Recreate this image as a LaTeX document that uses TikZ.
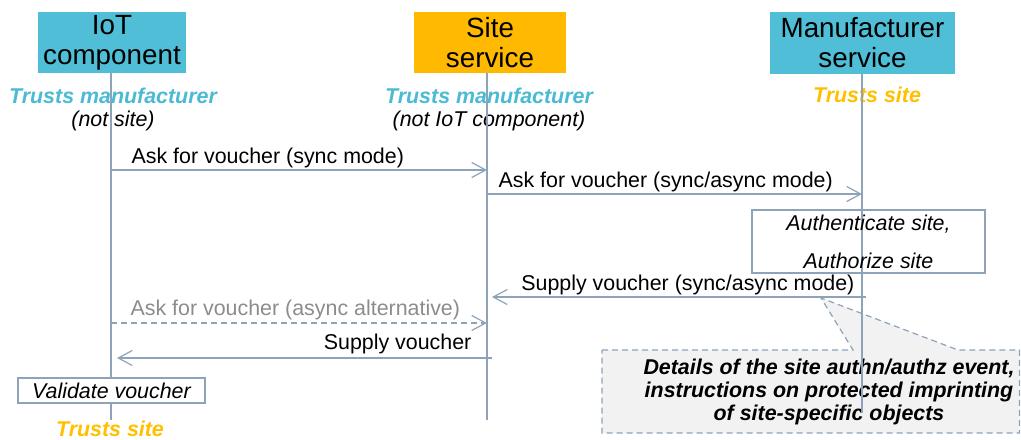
\documentclass[tikz,border=0pt]{standalone}
\usepackage{fontspec}
\setmainfont{Liberation Sans}
\usepackage{tikz}
\usetikzlibrary{arrows.meta, positioning, backgrounds}
\definecolor{actorCyan}{HTML}{4FBED6}
\definecolor{actorOrange}{HTML}{FFB900}
\definecolor{trustCyan}{HTML}{4BBAD3}
\definecolor{trustOrange}{HTML}{FFC000}
\definecolor{lineGrey}{HTML}{8EA3B7}
\definecolor{altGrey}{HTML}{8C8C8C}
\definecolor{noteFill}{HTML}{F2F2F2}
\tikzstyle{actor} = [rectangle, align=center, inner sep=0pt, font=\fontsize{13.9}{15}\selectfont]
\tikzstyle{lifeline} = [draw=lineGrey, line width=0.6pt]
\tikzstyle{msg} = [draw=lineGrey, line width=0.6pt, -{Straight Barb[length=7pt,width=7.5pt]}]
\tikzstyle{msgAlt} = [msg, dash pattern=on 3pt off 2pt]
\tikzstyle{msgText} = [inner sep=0pt, font=\fontsize{10.7}{12.8}\selectfont]
\tikzstyle{trustText} = [inner sep=0pt, font=\fontsize{10.7}{12.8}\selectfont\bfseries\itshape]
\tikzstyle{whyText} = [inner sep=0pt, font=\fontsize{10.7}{12.8}\selectfont\itshape]
\tikzstyle{actionBox} = [
                draw=lineGrey,
                line width=0.6pt,
                inner sep=0pt,
                align=center,
                font=\fontsize{10.7}{19}\selectfont\itshape
            ]
\tikzstyle{noteText} = [inner sep=0pt, align=center, font=\fontsize{10.7}{11.3}\selectfont\bfseries\itshape]
\tikzstyle{noteShape} = [draw=lineGrey, fill=noteFill, line width=0.6pt, dash pattern=on 3pt off 2pt]

\begin{document}
\begin{tikzpicture}[x=0.5pt, y=-0.5pt]
    \useasboundingbox (0,0) rectangle (1021,439);
    % actors
    \node (iot) [actor, fill=actorCyan, minimum width=74pt, minimum height=30.5pt] at (112,42.5) {IoT\\component};
    \node (site) [actor, fill=actorOrange, minimum width=76pt, minimum height=30.5pt] at (490,42.5) {Site\\service};
    \node (mfr) [actor, fill=actorCyan, minimum width=92.5pt, minimum height=31pt] at (862.5,43) {Manufacturer\\service};
    % trust notes
    \node (iotTrust) [trustText, text=trustCyan] at (113,96) {Trusts manufacturer};
    \node (iotWhy) [whyText] at (113,121) {(not site)};
    \node (siteTrust) [trustText, text=trustCyan] at (489,96) {Trusts manufacturer};
    \node (siteWhy) [whyText] at (489,121) {(not IoT component)};
    \node (mfrTrust) [trustText, text=trustOrange] at (867,95) {Trusts site};
    \node (iotTrustEnd) [trustText, text=trustOrange] at (110,429) {Trusts site};
    % note behind the manufacturer lifeline
    \coordinate (tip) at (821,298);
    \begin{scope}[on background layer]
        \draw [noteShape] (602,350) -- (853,350) -- (tip) -- (958,350) -- (1019.5,350) -- (1019.5,433) -- (602,433) -- cycle;
    \end{scope}
    \node (note) [noteText] at (829,392) {Details of the site authn/authz event,\\instructions on protected imprinting\\of site-specific objects};
    % lifelines
    \coordinate (iotTop) at (iot.south -| 111,0);
    \coordinate (siteTop) at (site.south -| 487,0);
    \coordinate (mfrTop) at (mfr.south -| 862,0);
    \coordinate (iotBottom) at (111,420);
    \coordinate (siteBottom) at (487,420);
    \coordinate (mfrBottom) at (862,412);
    \draw [lifeline] (iotTop) -- (iotBottom);
    \draw [lifeline] (siteTop) -- (siteBottom);
    \draw [lifeline] (mfrTop) -- (mfrBottom);
    % actions
    \node (auth) [actionBox, minimum width=116.5pt, minimum height=31.5pt] at (868.5,241.5) {Authenticate site,\\Authorize site};
    \node (validate) [actionBox, fill=white, minimum width=93.5pt, minimum height=12.5pt] at (111.5,390.5) {Validate voucher};
    % messages
    \coordinate (iotAsk) at (111,170);
    \coordinate (siteAsk) at (487,170);
    \coordinate (siteFwd) at (487,194);
    \coordinate (mfrFwd) at (862,194);
    \coordinate (mfrReply) at (866,297);
    \coordinate (siteReply) at (492,297);
    \coordinate (iotAlt) at (111,323);
    \coordinate (siteAlt) at (487,323);
    \coordinate (siteSupply) at (492,358);
    \coordinate (iotSupply) at (117,358);
    \draw [msg] (iotAsk) -- node [msgText, pos=0, anchor=base west, xshift=10pt, yshift=3.5pt] {Ask for voucher (sync mode)} (siteAsk);
    \draw [msg] (siteFwd) -- node [msgText, pos=0, anchor=base west, xshift=5.5pt, yshift=3.5pt] {Ask for voucher (sync/async mode)} (mfrFwd);
    \draw [msg] (mfrReply) -- node [msgText, pos=0, anchor=base east, xshift=-5.5pt, yshift=3.5pt] {Supply voucher (sync/async mode)} (siteReply);
    \draw [msgAlt] (iotAlt) -- node [msgText, text=altGrey, pos=0, anchor=base west, xshift=9.5pt, yshift=4pt] {Ask for voucher (async alternative)} (siteAlt);
    \draw [msg] (siteSupply) -- node [msgText, pos=0, anchor=base east, xshift=-10pt, yshift=4.5pt] {Supply voucher} (iotSupply);
\end{tikzpicture}
\end{document}
